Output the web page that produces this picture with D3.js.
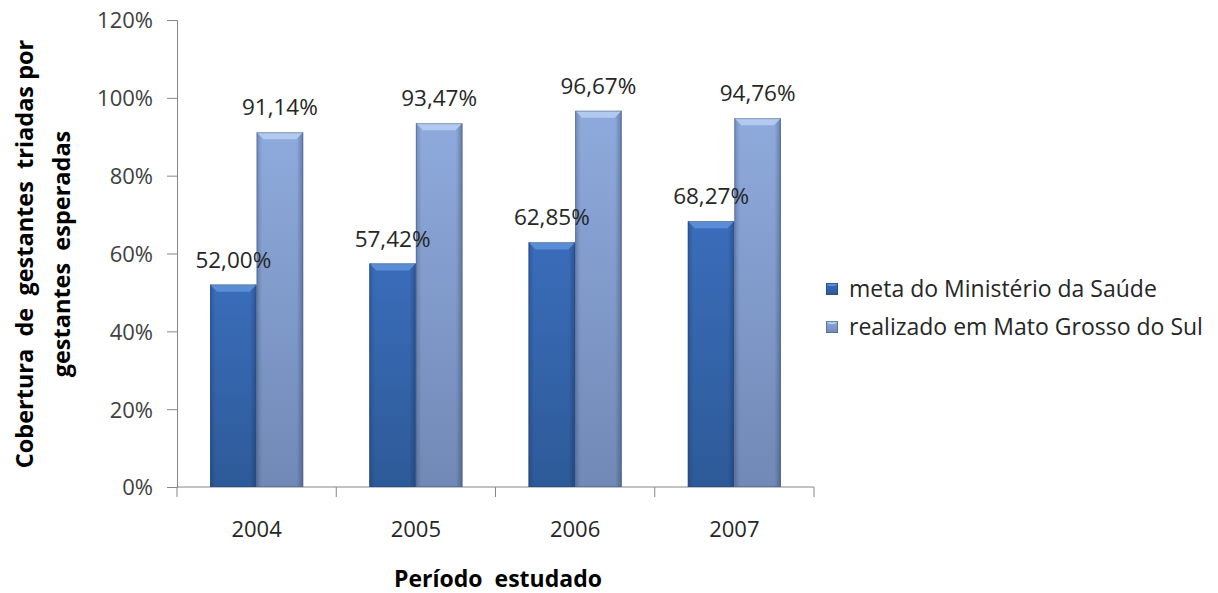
<!DOCTYPE html>
<html>
<head>
<meta charset="utf-8">
<script src="https://cdn.jsdelivr.net/npm/d3@7"></script>
<style>
  html, body { margin: 0; padding: 0; background: #ffffff; }
  svg { display: block; }
  text { font-family: "Open Sans", "Noto Sans", sans-serif; }
</style>
</head>
<body>
<script>
// Triagem pré-natal: cobertura por ano
const years = ["2004", "2005", "2006", "2007"];
const seriesNames = ["meta do Ministério da Saúde", "realizado em Mato Grosso do Sul"];
const metaValues = [52.00, 57.42, 62.85, 68.27];
const realizadoValues = [91.14, 93.47, 96.67, 94.76];
const yTicks = [0, 20, 40, 60, 80, 100, 120];

const W = 1218, H = 593;
const margin = { left: 177, right: 404, top: 20, bottom: 106 };

const svg = d3.select("body").append("svg")
  .attr("width", W).attr("height", H);

const defs = svg.append("defs");

// vertical body gradients and edge shading
function bodyGradient(id, top, bottom) {
  const g = defs.append("linearGradient").attr("id", id)
    .attr("x1", 0).attr("y1", 0).attr("x2", 0).attr("y2", 1);
  g.append("stop").attr("offset", "0%").attr("stop-color", top);
  g.append("stop").attr("offset", "100%").attr("stop-color", bottom);
}
bodyGradient("g-meta", "#3a6dba", "#2d5a98");
bodyGradient("g-real", "#8eaadc", "#7189b6");

const edge = defs.append("linearGradient").attr("id", "g-edge")
  .attr("x1", 0).attr("y1", 0).attr("x2", 1).attr("y2", 0);
[["0%", 0.22], ["12%", 0.0], ["86%", 0.0], ["100%", 0.32]].forEach(([o, a]) =>
  edge.append("stop").attr("offset", o).attr("stop-color", "#0b1e3c").attr("stop-opacity", a));

const colors = {
  body: ["url(#g-meta)", "url(#g-real)"],
  bevel: ["#5c8fd8", "#b4cbf0"],
  stroke: ["#24497f", "#4f6790"]
};

const y = d3.scaleLinear().domain([0, 120]).range([H - margin.bottom, margin.top]);
const x = d3.scaleBand().domain(years).range([margin.left, W - margin.right]).padding(0);
const x1 = d3.scaleBand().domain([0, 1]).range([0, x.bandwidth()])
  .paddingInner(0).paddingOuter(0.71);

const data = years.map((yr, i) => ({ year: yr, values: [metaValues[i], realizadoValues[i]] }));
const flat = data.flatMap(d => d.values.map((v, s) => ({ year: d.year, v, s })));

// axes
const axisColor = "#868686";
const textColor = "#404040";

const yAxis = svg.append("g").attr("transform", `translate(${margin.left},0)`)
  .call(d3.axisLeft(y).tickValues(yTicks).tickSize(10).tickPadding(14)
    .tickFormat(d => d + "%"));
yAxis.select(".domain").attr("stroke", axisColor);
yAxis.selectAll(".tick line").attr("stroke", axisColor);
yAxis.selectAll(".tick text").attr("fill", textColor)
  .style("font-size", "22px").attr("dy", "0.36em");

const xAxisG = svg.append("g").attr("transform", `translate(0,${y(0)})`);
xAxisG.append("line").attr("x1", margin.left).attr("x2", W - margin.right)
  .attr("y1", 0).attr("y2", 0).attr("stroke", axisColor);
const boundaries = years.map(d => x(d)).concat([x(years[years.length - 1]) + x.bandwidth()]);
xAxisG.selectAll("line.tk").data(boundaries).join("line").attr("class", "tk")
  .attr("x1", d => d).attr("x2", d => d).attr("y1", 0).attr("y2", 10)
  .attr("stroke", axisColor);
xAxisG.selectAll("text.yr").data(years).join("text").attr("class", "yr")
  .attr("x", d => x(d) + x.bandwidth() / 2).attr("y", 50)
  .attr("text-anchor", "middle").attr("fill", "#262626")
  .style("font-size", "22px").text(d => d);

// bars
const barLayer = svg.append("g");
const bars = barLayer.selectAll("g.bar").data(flat).join("g").attr("class", "bar")
  .attr("transform", d => `translate(${x(d.year)},0)`);

bars.each(function (d) {
  const g = d3.select(this);
  const bx = x1(d.s), bw = x1.bandwidth();
  const top = y(d.v), bottom = y(0);
  const bev = 7;
  g.append("rect").attr("x", bx).attr("y", top).attr("width", bw).attr("height", bottom - top)
    .attr("fill", colors.body[d.s]);
  g.append("rect").attr("x", bx).attr("y", top).attr("width", bw).attr("height", bottom - top)
    .attr("fill", "url(#g-edge)");
  g.append("polygon")
    .attr("points", [[bx, top], [bx + bw, top], [bx + bw - bev, top + bev], [bx + bev, top + bev]]
      .map(p => p.join(",")).join(" "))
    .attr("fill", colors.bevel[d.s]).attr("opacity", 0.95);
  g.append("line").attr("x1", bx + 2).attr("x2", bx + bw - 2).attr("y1", top + 0.5).attr("y2", top + 0.5)
    .attr("stroke", "#ffffff").attr("stroke-opacity", 0.45);
  g.append("rect").attr("x", bx + 0.5).attr("y", top + 0.5).attr("width", bw - 1).attr("height", bottom - top - 1)
    .attr("fill", "none").attr("stroke", colors.stroke[d.s]).attr("stroke-opacity", 0.6);
});

// value labels, drawn above all bars
svg.append("g").selectAll("text").data(flat).join("text")
  .attr("x", d => x(d.year) + x1(d.s) + x1.bandwidth() / 2)
  .attr("y", d => y(d.v) - 17)
  .attr("text-anchor", "middle").attr("fill", "#262626")
  .style("font-size", "22.5px")
  .text(d => d.v.toFixed(2).replace(".", ",") + "%");

// legend
const legend = svg.append("g").attr("transform", "translate(826,283)");
seriesNames.forEach((name, i) => {
  const row = legend.append("g").attr("transform", `translate(0,${i * 38})`);
  row.append("rect").attr("x", 0).attr("y", 0).attr("width", 12).attr("height", 12)
    .attr("fill", colors.body[i]);
  row.append("polygon").attr("points", "0,0 12,0 9,3 3,3").attr("fill", colors.bevel[i]);
  row.append("rect").attr("x", 0.5).attr("y", 0.5).attr("width", 11).attr("height", 11)
    .attr("fill", "none").attr("stroke", colors.stroke[i]).attr("stroke-opacity", 0.7);
  row.append("text").attr("x", 23).attr("y", 6).attr("dy", "0.36em")
    .attr("fill", "#262626").style("font-size", "23px").text(name);
});

// axis titles
const yTitle = svg.append("text")
  .attr("transform", `translate(0,254) rotate(-90)`)
  .attr("text-anchor", "middle").attr("fill", "#000000")
  .style("font-size", "23.5px").style("font-weight", "bold")
  .style("white-space", "pre");
yTitle.append("tspan").attr("x", 0).attr("y", 33)
  .text("Cobertura  de  gestantes  triadas por");
yTitle.append("tspan").attr("x", 0).attr("y", 70)
  .text("gestantes  esperadas");

svg.append("text").attr("x", 498).attr("y", 587)
  .attr("text-anchor", "middle").attr("fill", "#000000")
  .style("font-size", "23px").style("font-weight", "bold")
  .style("white-space", "pre").text("Período  estudado");
</script>
</body>
</html>
